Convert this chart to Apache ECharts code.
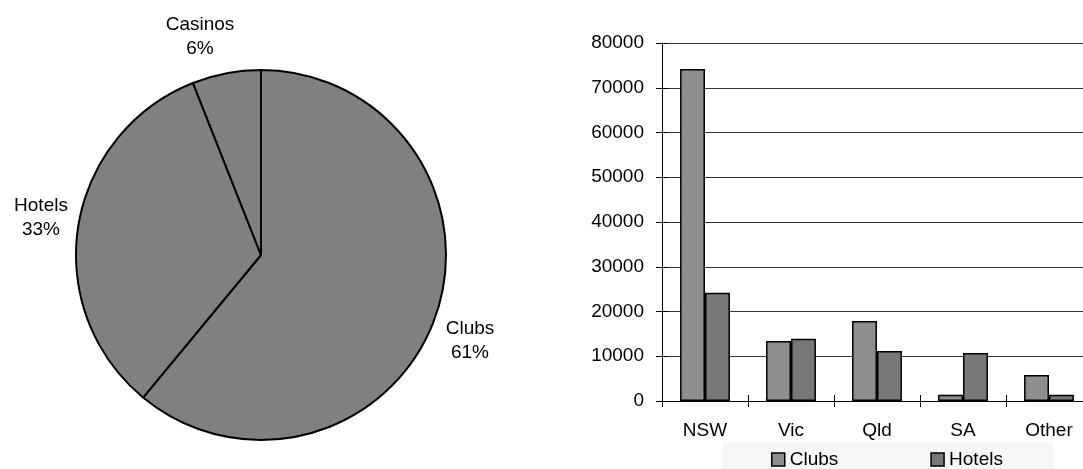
<!DOCTYPE html>
<html>
<head>
<meta charset="utf-8">
<script src="https://cdn.jsdelivr.net/npm/echarts@6/dist/echarts.min.js"></script>
<style>
  html, body { margin: 0; padding: 0; background: #fff; }
  #chart { width: 1083px; height: 469px; }
</style>
</head>
<body>
<div id="chart"></div>
<script>
// Share of gaming machines by venue type
const venueNames = ['Clubs', 'Hotels', 'Casinos'];
const venueShares = [61, 33, 6];

// Gaming machines by state, clubs vs hotels
const states = ['NSW', 'Vic', 'Qld', 'SA', 'Other'];
const clubsByState = [74200, 13400, 17900, 1400, 5800];
const hotelsByState = [24200, 13900, 11200, 10700, 1400];

const yTicks = { min: 0, max: 80000, interval: 10000 };

const FONT = 'Liberation Sans, Arial, sans-serif';
const FS = 19;

// Where each pie label block is centred (Clubs, Hotels, Casinos)
const pieLabelSpots = [[470, 341], [41, 218], [200, 37]];

const chart = echarts.init(document.getElementById('chart'), null, { renderer: 'canvas' });

const tickStyle = { color: '#000', width: 1 };

chart.setOption({
  animation: false,
  backgroundColor: '#ffffff',
  textStyle: { fontFamily: FONT, color: '#000' },
  legend: {
    data: ['Clubs', 'Hotels'],
    left: 723,
    top: 442,
    padding: [8, 50, 4, 48],
    backgroundColor: '#f6f6f6',
    itemWidth: 13,
    itemHeight: 13,
    itemGap: 92,
    icon: 'rect',
    itemStyle: { borderColor: '#000', borderWidth: 1.5 },
    textStyle: { fontFamily: FONT, fontSize: FS, color: '#000' }
  },
  grid: {
    left: 662,
    top: 43,
    width: 430,
    bottom: 68,
    containLabel: false,
    outerBoundsMode: 'none'
  },
  xAxis: [
    {
      type: 'category',
      data: states,
      axisLine: { lineStyle: { color: '#000', width: 1 } },
      axisTick: { show: true, length: 6, lineStyle: tickStyle },
      axisLabel: { fontFamily: FONT, fontSize: FS, color: '#000', margin: 20 }
    },
    {
      // inward half of the crossing category ticks
      type: 'category',
      data: states,
      position: 'bottom',
      axisLine: { show: false },
      axisTick: { show: true, inside: true, length: 6, lineStyle: tickStyle },
      axisLabel: { show: false }
    }
  ],
  yAxis: [
    {
      type: 'value',
      min: yTicks.min,
      max: yTicks.max,
      interval: yTicks.interval,
      axisLine: { show: true, lineStyle: { color: '#000', width: 1 } },
      axisTick: { show: true, length: 6, lineStyle: tickStyle },
      axisLabel: {
        fontFamily: FONT, fontSize: FS, color: '#000', margin: 18,
        formatter: (v) => String(v)
      },
      splitLine: { show: true, lineStyle: { color: '#333', width: 1 } }
    },
    {
      // inward half of the crossing value ticks
      type: 'value',
      position: 'left',
      min: yTicks.min,
      max: yTicks.max,
      interval: yTicks.interval,
      axisLine: { show: false },
      axisTick: { show: true, inside: true, length: 6, lineStyle: tickStyle },
      axisLabel: { show: false },
      splitLine: { show: false }
    }
  ],
  series: [
    {
      name: 'Clubs',
      type: 'bar',
      data: clubsByState,
      barGap: '0%',
      barCategoryGap: '42%',
      itemStyle: { color: '#8e8e8e', borderColor: '#000', borderWidth: 1.5 }
    },
    {
      name: 'Hotels',
      type: 'bar',
      data: hotelsByState,
      itemStyle: { color: '#787878', borderColor: '#000', borderWidth: 1.5 }
    },
    {
      name: 'Venues',
      type: 'pie',
      center: [261, 255],
      radius: 185,
      startAngle: 90,
      clockwise: true,
      avoidLabelOverlap: false,
      data: venueNames.map((n, i) => ({ name: n, value: venueShares[i] })),
      itemStyle: { color: '#808080', borderColor: '#000', borderWidth: 2 },
      emphasis: { disabled: true },
      label: {
        show: true,
        position: 'outside',
        formatter: '{t|{b}\n{d}%}',
        fontFamily: FONT,
        fontSize: FS,
        color: '#000',
        rich: {
          t: { fontFamily: FONT, fontSize: FS, color: '#000', align: 'center', lineHeight: 24 }
        }
      },
      labelLine: { show: false },
      labelLayout: (params) => ({
        x: pieLabelSpots[params.dataIndex][0],
        y: pieLabelSpots[params.dataIndex][1],
        align: 'center',
        verticalAlign: 'middle'
      })
    }
  ]
});
</script>
</body>
</html>
